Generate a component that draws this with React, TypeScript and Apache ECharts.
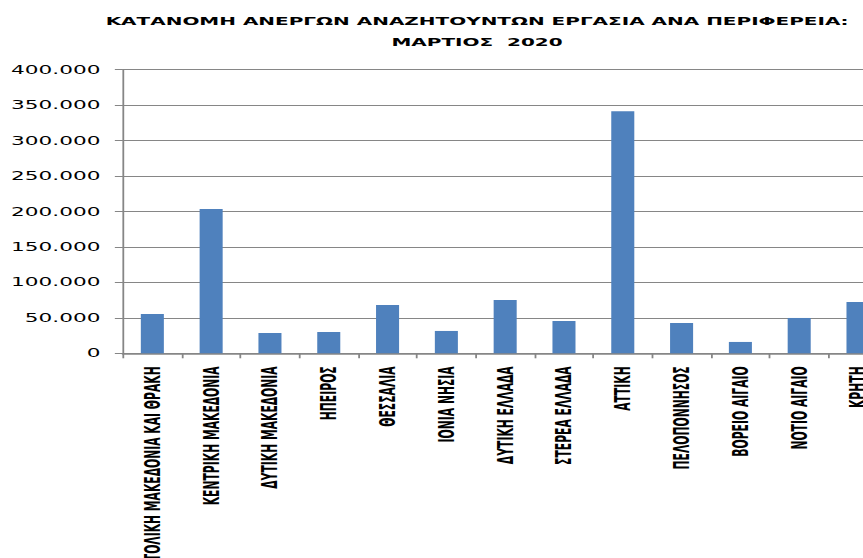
import React, { useEffect, useRef } from "react";
import * as echarts from "echarts";

const titleLines = ["ΚΑΤΑΝΟΜΗ ΑΝΕΡΓΩΝ ΑΝΑΖΗΤΟΥΝΤΩΝ ΕΡΓΑΣΙΑ ΑΝΑ ΠΕΡΙΦΕΡΕΙΑ:", "ΜΑΡΤΙΟΣ  2020"];

const regions = [
  "ΑΝΑΤΟΛΙΚΗ ΜΑΚΕΔΟΝΙΑ ΚΑΙ ΘΡΑΚΗ",
  "ΚΕΝΤΡΙΚΗ ΜΑΚΕΔΟΝΙΑ",
  "ΔΥΤΙΚΗ ΜΑΚΕΔΟΝΙΑ",
  "ΗΠΕΙΡΟΣ",
  "ΘΕΣΣΑΛΙΑ",
  "ΙΟΝΙΑ ΝΗΣΙΑ",
  "ΔΥΤΙΚΗ ΕΛΛΑΔΑ",
  "ΣΤΕΡΕΑ ΕΛΛΑΔΑ",
  "ΑΤΤΙΚΗ",
  "ΠΕΛΟΠΟΝΝΗΣΟΣ",
  "ΒΟΡΕΙΟ ΑΙΓΑΙΟ",
  "ΝΟΤΙΟ ΑΙΓΑΙΟ",
  "ΚΡΗΤΗ",
];

const unemployed = [55400, 203300, 28600, 30000, 68100, 31500, 75100, 45500, 341300, 42700, 16000, 49800, 72300];

const yMin = 0;
const yMax = 400000;
const yStep = 50000;

const STRETCH = 1.8;

function fmt(v: number): string {
  return String(Math.round(v)).replace(/\B(?=(\d{3})+(?!\d))/g, ".");
}

export default function App() {
  const ref = useRef<HTMLDivElement>(null);

  useEffect(() => {
    if (!ref.current) return;
    const chart = echarts.init(ref.current, undefined, { renderer: "svg" });
    chart.setOption({
      animation: false,
      backgroundColor: "#ffffff",
      title: {
        text: titleLines.join("\n"),
        left: 260,
        top: 6,
        textAlign: "center",
        textStyle: {
          fontFamily: "'DejaVu Sans', sans-serif",
          fontSize: 11.1,
          fontWeight: "bold",
          color: "#000000",
          lineHeight: 21,
        },
      },
      grid: {
        left: 68.3,
        right: 7,
        top: 69.5,
        bottom: 204.7,
        containLabel: false,
        outerBoundsMode: "none",
      },
      xAxis: {
        type: "category",
        data: regions,
        axisLine: { show: true, lineStyle: { color: "#868686", width: 1.5 } },
        axisTick: { show: true, length: 5, lineStyle: { color: "#868686", width: 1 } },
        axisLabel: {
          rotate: 90,
          interval: 0,
          margin: 13,
          fontFamily: "'Liberation Sans Narrow', 'DejaVu Sans Condensed', sans-serif",
          fontWeight: "bold",
          fontSize: 12,
          color: "#000000",
        },
      },
      yAxis: {
        type: "value",
        min: yMin,
        max: yMax,
        interval: yStep,
        axisLine: { show: true, lineStyle: { color: "#868686", width: 1 } },
        axisTick: { show: true, length: 4.5, lineStyle: { color: "#868686" } },
        splitLine: { show: true, lineStyle: { color: "#868686", width: 1.2 } },
        axisLabel: {
          margin: 12.5,
          formatter: (v: number) => fmt(v),
          fontFamily: "'DejaVu Sans', sans-serif",
          fontSize: 12,
          color: "#000000",
        },
      },
      series: [
        {
          type: "bar",
          data: unemployed,
          barWidth: 12.8,
          itemStyle: { color: "#4F81BD" },
        },
      ],
    });
    return () => chart.dispose();
  }, []);

  return (
    <div
      style={{
        position: "fixed",
        left: 0,
        top: 0,
        width: 863,
        height: 558,
        overflow: "hidden",
        background: "#ffffff",
      }}
    >
      <div
        ref={ref}
        style={{
          width: 500,
          height: 558,
          transform: `scaleX(${STRETCH})`,
          transformOrigin: "0 0",
        }}
      />
    </div>
  );
}
